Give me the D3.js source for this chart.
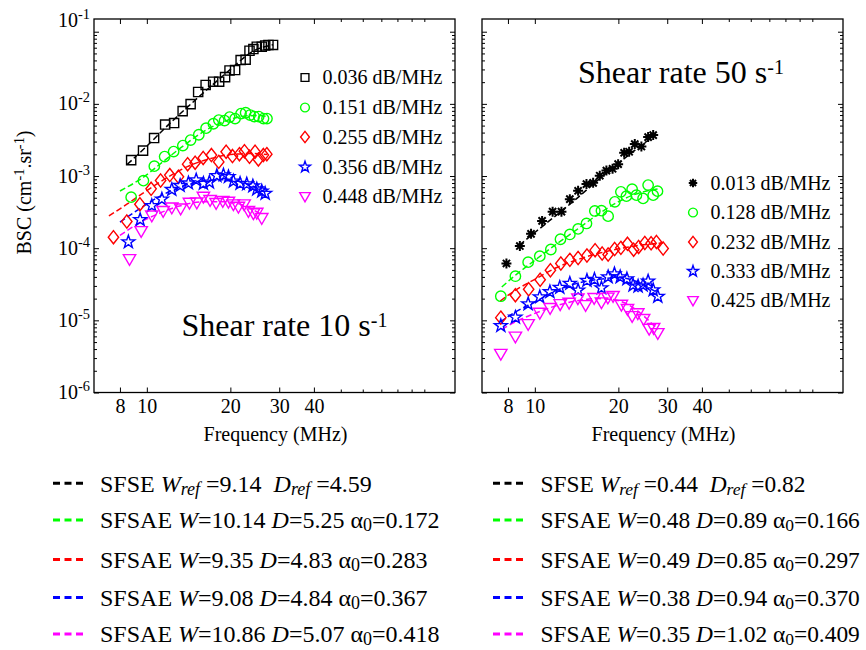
<!DOCTYPE html>
<html><head><meta charset="utf-8">
<script src="https://cdn.jsdelivr.net/npm/d3@7"></script>
<style>body{margin:0;background:#fff} text{font-family:"Liberation Serif","Times New Roman",serif;fill:#000}</style>
</head><body><svg id="c" width="866" height="650"></svg>
<script>
// ---------- DATA ----------
const xTicks = [8, 10, 20, 30, 40];
const xMinorTicks = [50, 60, 70, 80, 90, 100];
const yTickExps = [-6, -5, -4, -3, -2, -1];

// Left panel: shear rate 10 s-1
const L_sq_f = [8.78,9.69,10.62,11.64,12.54,13.46,14.38,15.31,16.29,17.34,18.22,19.14,19.86,20.8,21.78,22.7,23.44,24.21,24.9,25.95,26.7,27.43,28.5];
const L_sq_v = [1.66e-3,2.25e-3,3.36e-3,5.17e-3,5.42e-3,7.94e-3,9.93e-3,1.46e-2,1.83e-2,2.03e-2,2.03e-2,2.35e-2,2.90e-2,2.94e-2,4.05e-2,4.09e-2,5.45e-2,5.75e-2,6.19e-2,6.19e-2,6.44e-2,6.55e-2,6.55e-2];
const L_ci_f = [8.78,9.72,10.64,11.59,12.49,13.48,14.38,15.39,16.35,17.37,18.17,19.06,19.88,20.8,21.85,22.7,23.56,24.38,25.3,26.33,27.1];
const L_ci_v = [5.10e-4,8.63e-4,1.37e-3,1.86e-3,2.18e-3,2.64e-3,3.15e-3,3.73e-3,4.61e-3,5.30e-3,5.96e-3,5.86e-3,6.56e-3,6.25e-3,7.33e-3,7.53e-3,7.00e-3,6.67e-3,6.67e-3,6.25e-3,6.25e-3];
const L_di_f = [7.58,8.47,9.44,10.36,11.21,12.10,13.00,14.03,14.93,15.96,17.09,18.16,19.31,20.35,21.56,22.48,23.44,24.55,25.23,26.3,27.06];
const L_di_v = [1.42e-4,2.34e-4,4.07e-4,6.64e-4,8.68e-4,1.03e-3,9.74e-4,1.46e-3,1.53e-3,1.78e-3,1.95e-3,1.57e-3,2.17e-3,1.89e-3,2.01e-3,2.21e-3,1.85e-3,2.17e-3,1.70e-3,1.95e-3,2.01e-3];
const L_st_f = [8.58,9.46,10.42,11.33,12.30,13.18,14.12,15.06,15.99,16.81,17.88,18.88,19.68,20.51,21.68,22.91,24.1,24.9,25.95,26.7];
const L_st_v = [1.22e-4,2.48e-4,3.88e-4,4.78e-4,6.48e-4,7.36e-4,7.97e-4,8.78e-4,7.89e-4,8.22e-4,1.01e-3,1.03e-3,9.74e-4,8.49e-4,7.89e-4,7.73e-4,7.25e-4,6.58e-4,6.17e-4,5.74e-4];
const L_tr_f = [8.66,9.54,10.42,11.45,12.30,13.24,14.24,15.14,15.99,16.9,17.77,18.78,19.68,20.51,21.38,22.42,23.23,24.21,24.9,25.95];
const L_tr_v = [7.03e-5,1.72e-4,2.83e-4,3.26e-4,3.65e-4,3.53e-4,4.25e-4,4.28e-4,5.15e-4,4.63e-4,4.21e-4,4.49e-4,4.39e-4,4.04e-4,3.74e-4,4.04e-4,3.26e-4,3.03e-4,3.09e-4,2.61e-4];
// Left fits
const L_fitK_f = [8.5,10,12,14,17,20,24,28.5];
const L_fitK_v = [1.45e-3,2.6e-3,5.2e-3,9.0e-3,1.75e-2,3.0e-2,5.3e-2,6.6e-2];
const L_fitG_f = [8.0,9.7,11.6,13.5,16.3,19,22,25,27.1];
const L_fitG_v = [6.2e-4,9.6e-4,1.65e-3,2.6e-3,4.3e-3,5.7e-3,6.7e-3,6.9e-3,6.7e-3];
const L_fitR_f = [7.3,8.5,10,12,14,17,20,24,27.1];
const L_fitR_v = [2.8e-4,4.1e-4,6.3e-4,9.8e-4,1.35e-3,1.75e-3,1.98e-3,2.05e-3,1.98e-3];
const L_fitB_f = [8.0,9.5,11,13,16,19,22,26.7];
const L_fitB_v = [2.3e-4,3.6e-4,5.1e-4,6.9e-4,8.5e-4,8.9e-4,8.2e-4,6.0e-4];
const L_fitM_f = [8.0,9.5,11,13,16,19,22,26];
const L_fitM_v = [1.5e-4,2.3e-4,3.0e-4,3.8e-4,4.4e-4,4.4e-4,4.0e-4,2.9e-4];
const L_legend = ["0.036 dB/MHz","0.151 dB/MHz","0.255 dB/MHz","0.356 dB/MHz","0.448 dB/MHz"];

// Right panel: shear rate 50 s-1
const R_as_f = [7.9,8.83,9.69,10.62,11.59,12.47,13.37,14.32,15.35,16.22,17.14,18.11,19.06,19.96,20.98,21.87,22.92,24.21,25.6,26.7];
const R_as_v = [6.14e-5,1.07e-4,1.58e-4,2.39e-4,3.21e-4,3.21e-4,4.78e-4,6.24e-4,7.73e-4,8.05e-4,1.01e-3,1.19e-3,1.26e-3,1.46e-3,2.10e-3,2.17e-3,2.77e-3,2.56e-3,3.46e-3,3.69e-3];
const R_ci_f = [7.54,8.51,9.46,10.42,11.42,12.37,13.37,14.32,15.35,16.45,17.38,18.37,19.42,20.42,21.38,22.42,23.23,24.55,25.6,26.7,27.67];
const R_ci_v = [2.16e-5,4.09e-5,6.40e-5,7.75e-5,9.59e-5,1.33e-4,1.55e-4,1.85e-4,2.20e-4,3.28e-4,3.31e-4,2.78e-4,4.39e-4,6.04e-4,5.26e-4,6.58e-4,5.43e-4,4.89e-4,7.48e-4,5.43e-4,6.17e-4];
const R_di_f = [7.54,8.51,9.5,10.45,11.38,12.41,13.37,14.32,15.41,16.49,17.48,18.37,19.39,20.42,21.57,22.7,23.66,24.91,26.24,27.43,29.0];
const R_di_v = [1.09e-5,2.23e-5,2.70e-5,3.65e-5,4.95e-5,6.14e-5,6.89e-5,7.31e-5,7.92e-5,9.38e-5,8.45e-5,8.18e-5,9.75e-5,1.01e-4,1.15e-4,9.53e-5,1.04e-4,1.18e-4,1.17e-4,1.22e-4,9.91e-5];
const R_st_f = [7.54,8.51,9.46,10.42,11.33,12.3,13.37,14.32,15.41,16.4,17.38,18.37,19.36,20.3,21.47,22.6,23.56,24.55,25.6,26.7,27.74];
const R_st_v = [8.41e-6,1.10e-5,1.69e-5,2.11e-5,2.48e-5,2.85e-5,3.24e-5,2.61e-5,3.56e-5,3.69e-5,2.81e-5,4.00e-5,4.40e-5,4.00e-5,3.74e-5,3.07e-5,2.97e-5,3.07e-5,3.48e-5,2.64e-5,2.14e-5];
const R_tr_f = [7.54,8.51,9.46,10.42,11.35,12.34,13.29,14.29,15.24,16.36,17.38,18.33,19.14,20.51,21.57,22.42,23.5,24.66,25.82,26.8,27.74];
const R_tr_v = [3.42e-6,5.93e-6,8.83e-6,1.27e-5,1.48e-5,1.67e-5,1.75e-5,2.01e-5,1.62e-5,2.03e-5,1.77e-5,2.06e-5,2.17e-5,1.64e-5,1.43e-5,1.14e-5,1.25e-5,1.04e-5,7.60e-6,7.82e-6,6.62e-6];
// Right fits
const R_fitK_f = [8.8,10,12,14,17,20,24,26.7];
const R_fitK_v = [1.1e-4,1.65e-4,2.9e-4,4.7e-4,9.0e-4,1.5e-3,2.6e-3,3.5e-3];
const R_fitG_f = [7.6,8.5,10,12,14,17,20,24,27.7];
const R_fitG_v = [2.9e-5,4.2e-5,6.8e-5,1.15e-4,1.75e-4,3.0e-4,4.4e-4,5.9e-4,6.6e-4];
const R_fitR_f = [7.5,8.5,10,12,14,17,20,24,29];
const R_fitR_v = [1.85e-5,2.6e-5,3.7e-5,5.4e-5,6.8e-5,8.5e-5,9.8e-5,1.1e-4,1.18e-4];
const R_fitB_f = [7.5,8.5,10,12,14,17,20,23,27.7];
const R_fitB_v = [9.5e-6,1.3e-5,1.8e-5,2.6e-5,3.2e-5,3.7e-5,3.9e-5,3.5e-5,2.4e-5];
const R_fitM_f = [7.6,8.5,10,12,14,17,19,22,25,27.7];
const R_fitM_v = [7.5e-6,9.5e-6,1.25e-5,1.6e-5,1.85e-5,2.0e-5,1.95e-5,1.6e-5,1.1e-5,7.5e-6];
const R_legend = ["0.013 dB/MHz","0.128 dB/MHz","0.232 dB/MHz","0.333 dB/MHz","0.425 dB/MHz"];

// Bottom legends (fit models)
const colors = ["#000000","#00ff00","#ff0000","#0000ff","#ff00ff"];
const L_models = [
  [["SFSE ","n"],["W","i"],["ref","isub"],[" =9.14  ","n"],["D","i"],["ref","isub"],[" =4.59","n"]],
  [["SFSAE ","n"],["W","i"],["=10.14 ","n"],["D","i"],["=5.25 α","n"],["0","sub"],["=0.172","n"]],
  [["SFSAE ","n"],["W","i"],["=9.35 ","n"],["D","i"],["=4.83 α","n"],["0","sub"],["=0.283","n"]],
  [["SFSAE ","n"],["W","i"],["=9.08 ","n"],["D","i"],["=4.84 α","n"],["0","sub"],["=0.367","n"]],
  [["SFSAE ","n"],["W","i"],["=10.86 ","n"],["D","i"],["=5.07 α","n"],["0","sub"],["=0.418","n"]]
];
const R_models = [
  [["SFSE ","n"],["W","i"],["ref","isub"],[" =0.44  ","n"],["D","i"],["ref","isub"],[" =0.82","n"]],
  [["SFSAE ","n"],["W","i"],["=0.48 ","n"],["D","i"],["=0.89 α","n"],["0","sub"],["=0.166","n"]],
  [["SFSAE ","n"],["W","i"],["=0.49 ","n"],["D","i"],["=0.85 α","n"],["0","sub"],["=0.297","n"]],
  [["SFSAE ","n"],["W","i"],["=0.38 ","n"],["D","i"],["=0.94 α","n"],["0","sub"],["=0.370","n"]],
  [["SFSAE ","n"],["W","i"],["=0.35 ","n"],["D","i"],["=1.02 α","n"],["0","sub"],["=0.409","n"]]
];

// ---------- DRAWING ----------
const svg = d3.select('#c');
svg.append('rect').attr('width',866).attr('height',650).attr('fill','#fff');

const Y0 = 19, Y1 = 392.5;
const y = d3.scaleLog().domain([1e-6, 0.15]).range([Y1, Y0]);
const yMajor = yTickExps.map(e => Math.pow(10, e));
const yMinor = [];
yTickExps.forEach(e => { for (let k = 2; k <= 9; k++) { const v = k * Math.pow(10, e); if (v <= 0.15) yMinor.push(v); } });

function markerPath(type, s) {
  switch (type) {
    case 'square': { const h = 4.6*s; return `M${-h},${-h}H${h}V${h}H${-h}Z`; }
    case 'circle': { const r = 5.2*s; return `M${r},0A${r},${r} 0 1,1 ${-r},0A${r},${r} 0 1,1 ${r},0Z`; }
    case 'diamond': { const w = 5.2*s, h = 6.6*s; return `M0,${-h}L${w},0L0,${h}L${-w},0Z`; }
    case 'star': { let p = ''; for (let i = 0; i < 10; i++) { const r = (i % 2 ? 2.7 : 6.8)*s; const a = -Math.PI/2 + i*Math.PI/5; p += (i ? 'L' : 'M') + (r*Math.cos(a)).toFixed(2) + ',' + (r*Math.sin(a)).toFixed(2); } return p + 'Z'; }
    case 'tri': { const w = 6.2*s; return `M${-w},${-4.6*s}L${w},${-4.6*s}L0,${6.2*s}Z`; }
    case 'ast': { const r = 5*s, d = r*0.72; return `M${-r},0H${r}M0,${-r}V${r}M${-d},${-d}L${d},${d}M${-d},${d}L${d},${-d}`; }
  }
}

function richText(g, x, yb, parts, fs, anchor, opts) {
  const o = Object.assign({sub: 0.13, subSize: 0.75, supSize: 0.72, supDy: -0.4}, opts || {});
  const t = g.append('text').attr('x', x).attr('y', yb).attr('font-size', fs)
    .attr('text-anchor', anchor || 'start').style('white-space', 'pre');
  let shift = 0;
  parts.forEach(([s, k]) => {
    const sp = t.append('tspan').text(s);
    const target = (k === 'sub' || k === 'isub') ? fs*o.sub : (k === 'sup' ? fs*o.supDy : 0);
    if (target - shift !== 0) sp.attr('dy', target - shift);
    shift = target;
    if (k === 'i' || k === 'isub') sp.attr('font-style', 'italic');
    if (k === 'sub' || k === 'isub') sp.attr('font-size', fs*o.subSize);
    if (k === 'sup') sp.attr('font-size', fs*o.supSize);
  });
  return t;
}

const panels = [
  { x0: 94, x1: 455, showY: true,
    series: [[L_sq_f,L_sq_v,'square'],[L_ci_f,L_ci_v,'circle'],[L_di_f,L_di_v,'diamond'],[L_st_f,L_st_v,'star'],[L_tr_f,L_tr_v,'tri']],
    fits: [[L_fitK_f,L_fitK_v],[L_fitG_f,L_fitG_v],[L_fitR_f,L_fitR_v],[L_fitB_f,L_fitB_v],[L_fitM_f,L_fitM_v]],
    legend: L_legend, legX: 305, legY: [77.5,107.5,137,167,196.5],
    title: "Shear rate 10 s", titleX: 181.5, titleY: 336 },
  { x0: 482, x1: 843, showY: false,
    series: [[R_as_f,R_as_v,'ast'],[R_ci_f,R_ci_v,'circle'],[R_di_f,R_di_v,'diamond'],[R_st_f,R_st_v,'star'],[R_tr_f,R_tr_v,'tri']],
    fits: [[R_fitK_f,R_fitK_v],[R_fitG_f,R_fitG_v],[R_fitR_f,R_fitR_v],[R_fitB_f,R_fitB_v],[R_fitM_f,R_fitM_v]],
    legend: R_legend, legX: 693, legY: [183,212.5,242,271.3,300.5],
    title: "Shear rate 50 s", titleX: 578, titleY: 83 }
];

panels.forEach((P, pi) => {
  const x = d3.scaleLog().domain([6.45, 129]).range([P.x0, P.x1]);
  const g = svg.append('g');

  const cid = 'clip' + pi;
  svg.append('clipPath').attr('id', cid).append('rect')
    .attr('x', P.x0).attr('y', Y0).attr('width', P.x1 - P.x0).attr('height', Y1 - Y0);

  // axes (ticks inward)
  const axB = d3.axisBottom(x).tickValues(xTicks).tickSizeInner(-5).tickSizeOuter(0).tickPadding(6.5).tickFormat(d3.format('d'));
  const gB = g.append('g').attr('transform', `translate(0,${Y1})`).call(axB);
  gB.selectAll('text').attr('font-size', 20).attr('font-family', '"Liberation Serif","Times New Roman",serif').attr('fill','#000');
  g.append('g').attr('transform', `translate(0,${Y1})`).call(d3.axisBottom(x).tickValues(xMinorTicks).tickSizeInner(-3).tickSizeOuter(0).tickFormat(''));
  g.append('g').attr('transform', `translate(0,${Y0})`).call(d3.axisTop(x).tickValues(xTicks).tickSizeInner(-5).tickSizeOuter(0).tickFormat(''));
  g.append('g').attr('transform', `translate(0,${Y0})`).call(d3.axisTop(x).tickValues(xMinorTicks).tickSizeInner(-3).tickSizeOuter(0).tickFormat(''));

  g.append('g').attr('transform', `translate(${P.x0},0)`).call(d3.axisLeft(y).tickValues(yMajor).tickSizeInner(-5).tickSizeOuter(0).tickFormat(''));
  g.append('g').attr('transform', `translate(${P.x0},0)`).call(d3.axisLeft(y).tickValues(yMinor).tickSizeInner(-3).tickSizeOuter(0).tickFormat(''));
  g.append('g').attr('transform', `translate(${P.x1},0)`).call(d3.axisRight(y).tickValues(yMajor).tickSizeInner(-5).tickSizeOuter(0).tickFormat(''));
  g.append('g').attr('transform', `translate(${P.x1},0)`).call(d3.axisRight(y).tickValues(yMinor).tickSizeInner(-3).tickSizeOuter(0).tickFormat(''));
  g.selectAll('.domain').remove();
  g.selectAll('.tick line').attr('stroke', '#000').attr('stroke-width', 1);

  if (P.showY) {
    yTickExps.forEach(e => {
      let yy = y(Math.pow(10, e));
      if (e === -1) yy = Y0 + 1; // top label sits at the box corner in the reference
      richText(g, P.x0 - 4, yy + 6.5, [["10","n"],[String(e),"sup"]], 20, 'end');
    });
  }

  // box
  g.append('rect').attr('x', P.x0).attr('y', Y0).attr('width', P.x1 - P.x0).attr('height', Y1 - Y0)
    .attr('fill', 'none').attr('stroke', '#000').attr('stroke-width', 1.3);

  // fits
  const line = d3.line().x(d => x(d[0])).y(d => y(d[1])).curve(d3.curveMonotoneX);
  const plot = g.append('g').attr('clip-path', `url(#${cid})`);
  P.fits.forEach(([fs, vs], i) => {
    plot.append('path').datum(fs.map((f, j) => [f, vs[j]]))
      .attr('d', line).attr('fill', 'none').attr('stroke', colors[i])
      .attr('stroke-width', 1.5).attr('stroke-dasharray', '6,3');
  });
  // markers
  P.series.forEach(([fs, vs, type], i) => {
    plot.append('g').selectAll('path').data(fs.map((f, j) => [f, vs[j]])).join('path')
      .attr('transform', d => `translate(${x(d[0])},${y(d[1])})`)
      .attr('d', markerPath(type, 1)).attr('fill', 'none')
      .attr('stroke', colors[i]).attr('stroke-width', type === 'ast' ? 2 : 1.4)
      .attr('stroke-linejoin', 'miter');
  });

  // in-panel legend
  P.legend.forEach((txt, i) => {
    const type = P.series[i][2];
    g.append('path').attr('transform', `translate(${P.legX},${P.legY[i]})`)
      .attr('d', markerPath(type, 0.85)).attr('fill', 'none')
      .attr('stroke', colors[i]).attr('stroke-width', type === 'ast' ? 2 : 1.4);
    g.append('text').attr('x', P.legX + 17.5).attr('y', P.legY[i] + 6.5).attr('font-size', 20).text(txt);
  });

  // title
  richText(g, P.titleX, P.titleY, [[P.title, "n"], ["-1", "sup"]], 32, 'start', {supSize: 0.625, supDy: -0.28});

  // x label
  g.append('text').attr('x', (P.x0 + P.x1) / 2 + 1).attr('y', 440.5).attr('text-anchor', 'middle')
    .attr('font-size', 20).text('Frequency (MHz)');
});

// y label
richText(svg.append('g').attr('transform', 'translate(31,192.5) rotate(-90)'), 0, 0,
  [["BSC (cm","n"],["-1","sup"],[".sr","n"],["-1","sup"],[")","n"]], 20, 'middle', {supDy: -0.35});

// bottom legends
const rowsY = [483.3, 520, 559.5, 597.5, 634];
[[L_models, 53, 100, 24], [R_models, 493, 540.5, 23.4]].forEach(([models, lx, tx, fsz]) => {
  models.forEach((parts, i) => {
    svg.append('line').attr('x1', lx).attr('x2', lx + 30).attr('y1', rowsY[i]).attr('y2', rowsY[i])
      .attr('stroke', colors[i]).attr('stroke-width', 3).attr('stroke-dasharray', '7,4.5');
    richText(svg, tx, rowsY[i] + 8.3, parts, fsz);
  });
});
</script></body></html>
